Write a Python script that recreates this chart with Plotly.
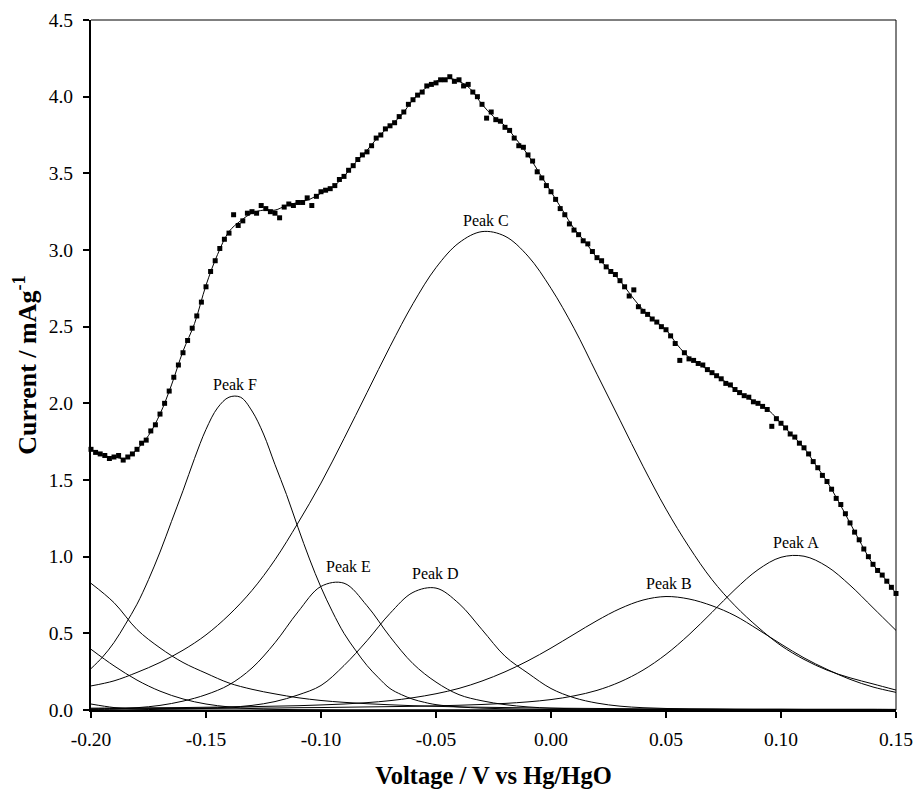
import plotly.graph_objects as go

# ---------------- data ----------------
# measured points (voltage V vs Hg/HgO, current mA/g)
data_voltage = [
    -0.200, -0.198, -0.196, -0.194, -0.192, -0.190, -0.188, -0.186, -0.184, -0.182,
    -0.180, -0.178, -0.176, -0.174, -0.172, -0.170, -0.168, -0.166, -0.164, -0.162,
    -0.160, -0.158, -0.156, -0.154, -0.152, -0.150, -0.148, -0.146, -0.144, -0.142,
    -0.140, -0.138, -0.136, -0.134, -0.132, -0.130, -0.128, -0.126, -0.124, -0.122,
    -0.120, -0.118, -0.116, -0.114, -0.112, -0.110, -0.108, -0.106, -0.104, -0.102,
    -0.100, -0.098, -0.096, -0.094, -0.092, -0.090, -0.088, -0.086, -0.084, -0.082,
    -0.080, -0.078, -0.076, -0.074, -0.072, -0.070, -0.068, -0.066, -0.064, -0.062,
    -0.060, -0.058, -0.056, -0.054, -0.052, -0.050, -0.048, -0.046, -0.044, -0.042,
    -0.040, -0.038, -0.036, -0.034, -0.032, -0.030, -0.028, -0.026, -0.024, -0.022,
    -0.020, -0.018, -0.016, -0.014, -0.012, -0.010, -0.008, -0.006, -0.004, -0.002,
    0.000, 0.002, 0.004, 0.006, 0.008, 0.010, 0.012, 0.014, 0.016, 0.018,
    0.020, 0.022, 0.024, 0.026, 0.028, 0.030, 0.032, 0.034, 0.036, 0.038,
    0.040, 0.042, 0.044, 0.046, 0.048, 0.050, 0.052, 0.054, 0.056, 0.058,
    0.060, 0.062, 0.064, 0.066, 0.068, 0.070, 0.072, 0.074, 0.076, 0.078,
    0.080, 0.082, 0.084, 0.086, 0.088, 0.090, 0.092, 0.094, 0.096, 0.098,
    0.100, 0.102, 0.104, 0.106, 0.108, 0.110, 0.112, 0.114, 0.116, 0.118,
    0.120, 0.122, 0.124, 0.126, 0.128, 0.130, 0.132, 0.134, 0.136, 0.138,
    0.140, 0.142, 0.144, 0.146, 0.148, 0.150,
]
data_current = [
    1.70, 1.68, 1.67, 1.66, 1.64, 1.65, 1.66, 1.63, 1.65, 1.67,
    1.70, 1.74, 1.76, 1.82, 1.86, 1.93, 2.00, 2.08, 2.17, 2.25,
    2.33, 2.41, 2.49, 2.57, 2.66, 2.76, 2.86, 2.93, 3.01, 3.07,
    3.11, 3.23, 3.16, 3.19, 3.24, 3.25, 3.24, 3.29, 3.27, 3.25,
    3.24, 3.21, 3.28, 3.30, 3.29, 3.31, 3.31, 3.34, 3.29, 3.35,
    3.38, 3.39, 3.40, 3.42, 3.46, 3.48, 3.52, 3.55, 3.59, 3.62,
    3.64, 3.68, 3.73, 3.75, 3.79, 3.81, 3.83, 3.87, 3.90, 3.95,
    3.98, 4.01, 4.03, 4.07, 4.08, 4.09, 4.11, 4.11, 4.13, 4.10,
    4.11, 4.07, 4.08, 4.03, 4.00, 3.95, 3.86, 3.90, 3.85, 3.84,
    3.80, 3.78, 3.73, 3.68, 3.67, 3.62, 3.58, 3.51, 3.47, 3.42,
    3.38, 3.33, 3.27, 3.23, 3.17, 3.13, 3.10, 3.06, 3.04, 2.99,
    2.95, 2.93, 2.89, 2.86, 2.84, 2.80, 2.76, 2.70, 2.74, 2.63,
    2.60, 2.58, 2.55, 2.53, 2.50, 2.48, 2.44, 2.39, 2.28, 2.33,
    2.29, 2.28, 2.26, 2.25, 2.22, 2.20, 2.18, 2.16, 2.13, 2.12,
    2.09, 2.07, 2.05, 2.04, 2.01, 2.00, 1.98, 1.96, 1.85, 1.90,
    1.87, 1.84, 1.80, 1.78, 1.74, 1.71, 1.67, 1.62, 1.58, 1.53,
    1.49, 1.44, 1.38, 1.34, 1.28, 1.22, 1.16, 1.11, 1.05, 1.00,
    0.95, 0.91, 0.88, 0.84, 0.80, 0.76,
]

# overall fitted curve
fit_voltage = [
    -0.200, -0.195, -0.190, -0.185, -0.180, -0.175, -0.170, -0.165, -0.160, -0.155,
    -0.150, -0.145, -0.140, -0.135, -0.130, -0.125, -0.120, -0.115, -0.110, -0.105,
    -0.100, -0.095, -0.090, -0.085, -0.080, -0.075, -0.070, -0.065, -0.060, -0.055,
    -0.050, -0.045, -0.040, -0.035, -0.030, -0.025, -0.020, -0.015, -0.010, -0.005,
    0.000, 0.005, 0.010, 0.015, 0.020, 0.025, 0.030, 0.035, 0.040, 0.045,
    0.050, 0.055, 0.060, 0.065, 0.070, 0.075, 0.080, 0.085, 0.090, 0.095,
    0.100, 0.105, 0.110, 0.115, 0.120, 0.125, 0.130, 0.135, 0.140, 0.145,
    0.150,
]
fit_current = [
    1.70, 1.66, 1.65, 1.64, 1.70, 1.79, 1.93, 2.12, 2.34, 2.52,
    2.77, 2.97, 3.12, 3.19, 3.24, 3.26, 3.26, 3.29, 3.31, 3.33,
    3.37, 3.41, 3.48, 3.57, 3.65, 3.74, 3.81, 3.88, 3.98, 4.05,
    4.10, 4.12, 4.10, 4.05, 3.95, 3.87, 3.81, 3.72, 3.62, 3.50,
    3.38, 3.26, 3.14, 3.05, 2.95, 2.88, 2.80, 2.70, 2.61, 2.54,
    2.48, 2.38, 2.30, 2.25, 2.20, 2.15, 2.09, 2.04, 2.00, 1.95,
    1.87, 1.79, 1.71, 1.60, 1.49, 1.36, 1.22, 1.08, 0.95, 0.86,
    0.76,
]

# deconvoluted peak components, sampled every 0.01 V
comp_voltage = [
    -0.20, -0.19, -0.18, -0.17, -0.16, -0.15, -0.14, -0.13, -0.12, -0.11,
    -0.10, -0.09, -0.08, -0.07, -0.06, -0.05, -0.04, -0.03, -0.02, -0.01,
    0.00, 0.01, 0.02, 0.03, 0.04, 0.05, 0.06, 0.07, 0.08, 0.09,
    0.10, 0.11, 0.12, 0.13, 0.14, 0.15,
]
peak_A = [0.007, 0.008, 0.008, 0.009, 0.009, 0.010, 0.011, 0.012, 0.013, 0.015,
          0.016, 0.018, 0.020, 0.022, 0.024, 0.027, 0.031, 0.036, 0.043, 0.053,
          0.068, 0.092, 0.128, 0.183, 0.260, 0.363, 0.491, 0.637, 0.786, 0.915,
          0.996, 1.003, 0.936, 0.814, 0.667, 0.519]
peak_B = [0.012, 0.013, 0.014, 0.015, 0.016, 0.018, 0.020, 0.022, 0.025, 0.028,
          0.033, 0.039, 0.048, 0.061, 0.080, 0.106, 0.141, 0.189, 0.249, 0.321,
          0.404, 0.494, 0.583, 0.661, 0.717, 0.740, 0.724, 0.680, 0.615, 0.525,
          0.430, 0.340, 0.265, 0.200, 0.150, 0.115]
peak_C = [0.157, 0.190, 0.245, 0.310, 0.390, 0.490, 0.620, 0.780, 0.980, 1.220,
          1.480, 1.770, 2.070, 2.370, 2.650, 2.885, 3.047, 3.120, 3.090, 2.960,
          2.750, 2.490, 2.190, 1.890, 1.590, 1.310, 1.064, 0.850, 0.680, 0.540,
          0.420, 0.330, 0.260, 0.210, 0.170, 0.130]
peak_D = [0.004, 0.005, 0.006, 0.008, 0.010, 0.013, 0.018, 0.030, 0.055, 0.098,
          0.160, 0.290, 0.452, 0.630, 0.767, 0.795, 0.694, 0.524, 0.351, 0.240,
          0.140, 0.080, 0.045, 0.025, 0.015, 0.010, 0.007, 0.005, 0.004, 0.003,
          0.003, 0.002, 0.002, 0.002, 0.001, 0.001]
peak_E = [0.005, 0.008, 0.015, 0.030, 0.058, 0.100, 0.164, 0.274, 0.439, 0.640,
          0.806, 0.827, 0.680, 0.478, 0.302, 0.182, 0.100, 0.060, 0.035, 0.020,
          0.012, 0.008, 0.005, 0.004, 0.003, 0.003, 0.002, 0.002, 0.002, 0.001,
          0.001, 0.001, 0.001, 0.001, 0.001, 0.001]
tail_1 = [0.826, 0.700, 0.525, 0.405, 0.310, 0.240, 0.176, 0.135, 0.105, 0.080,
          0.062, 0.050, 0.041, 0.034, 0.028, 0.024, 0.020, 0.018, 0.016, 0.014,
          0.012, 0.011, 0.010, 0.009, 0.008, 0.008, 0.007, 0.007, 0.006, 0.006,
          0.006, 0.005, 0.005, 0.005, 0.005, 0.004]
tail_2 = [0.396, 0.288, 0.195, 0.123, 0.072, 0.039, 0.020, 0.009, 0.004, 0.002,
          0.001, 0.000, 0.000, 0.000, 0.000, 0.000, 0.000, 0.000, 0.000, 0.000,
          0.000, 0.000, 0.000, 0.000, 0.000, 0.000, 0.000, 0.000, 0.000, 0.000,
          0.000, 0.000, 0.000, 0.000, 0.000, 0.000]
tail_3 = [0.039, 0.016, 0.006, 0.002, 0.001, 0.000, 0.000, 0.000, 0.000, 0.000,
          0.000, 0.000, 0.000, 0.000, 0.000, 0.000, 0.000, 0.000, 0.000, 0.000,
          0.000, 0.000, 0.000, 0.000, 0.000, 0.000, 0.000, 0.000, 0.000, 0.000,
          0.000, 0.000, 0.000, 0.000, 0.000, 0.000]

# the narrow Peak F is read on a finer 0.005 V step
peak_F_voltage = [
    -0.200, -0.195, -0.190, -0.185, -0.180, -0.175, -0.170, -0.165, -0.160, -0.155,
    -0.150, -0.145, -0.140, -0.135, -0.130, -0.125, -0.120, -0.115, -0.110, -0.105,
    -0.100, -0.095, -0.090, -0.085, -0.080, -0.075, -0.070, -0.065, -0.060, -0.055,
    -0.050, -0.040, -0.030, -0.020, -0.010, 0.000, 0.010, 0.020, 0.030, 0.050,
    0.100, 0.150,
]
peak_F = [
    0.270, 0.345, 0.440, 0.560, 0.690, 0.850, 1.030, 1.230, 1.430, 1.640,
    1.830, 1.970, 2.040, 2.040, 1.950, 1.800, 1.600, 1.405, 1.190, 0.985,
    0.800, 0.640, 0.500, 0.390, 0.290, 0.210, 0.140, 0.100, 0.070, 0.050,
    0.035, 0.020, 0.012, 0.008, 0.005, 0.003, 0.002, 0.001, 0.000, 0.000,
    0.000, 0.000,
]

peak_labels = ["Peak A", "Peak B", "Peak C", "Peak D", "Peak E", "Peak F"]
x_tick_values = [-0.20, -0.15, -0.10, -0.05, 0.00, 0.05, 0.10, 0.15]
x_tick_labels = ["-0.20", "-0.15", "-0.10", "-0.05", "0.00", "0.05", "0.10", "0.15"]
y_tick_values = [0.0, 0.5, 1.0, 1.5, 2.0, 2.5, 3.0, 3.5, 4.0, 4.5]
y_tick_labels = ["0.0", "0.5", "1.0", "1.5", "2.0", "2.5", "3.0", "3.5", "4.0", "4.5"]

# label anchor positions (layout, in data units)
label_pos = {
    "Peak A": (0.1065, 1.095),
    "Peak B": (0.0511, 0.827),
    "Peak C": (-0.0283, 3.19),
    "Peak D": (-0.0504, 0.887),
    "Peak E": (-0.0880, 0.935),
    "Peak F": (-0.1372, 2.125),
}

SERIF = "Liberation Serif, Times New Roman, serif"
LINE = dict(color="black", width=1, shape="spline", smoothing=1.0)

fig = go.Figure()

for comp in [peak_A, peak_B, peak_C, peak_D, peak_E, tail_1, tail_2, tail_3]:
    fig.add_trace(go.Scatter(x=comp_voltage, y=comp, mode="lines", line=LINE,
                             showlegend=False, hoverinfo="skip"))
fig.add_trace(go.Scatter(x=peak_F_voltage, y=peak_F, mode="lines", line=LINE,
                         showlegend=False, hoverinfo="skip"))

fig.add_trace(go.Scatter(x=fit_voltage, y=fit_current, mode="lines", line=LINE,
                         showlegend=False, hoverinfo="skip"))

fig.add_trace(go.Scatter(
    x=data_voltage, y=data_current, mode="markers",
    marker=dict(symbol="square", size=5, color="black", line=dict(width=0)),
    cliponaxis=False, showlegend=False,
))

for lab in peak_labels:
    lx, ly = label_pos[lab]
    fig.add_annotation(x=lx, y=ly, text=lab, showarrow=False,
                       xanchor="center", yanchor="middle",
                       font=dict(family=SERIF, size=16, color="black"))

# thin top and right frame
fig.add_shape(type="line", xref="paper", yref="paper", x0=0, x1=1, y0=1, y1=1,
              line=dict(color="black", width=1))
fig.add_shape(type="line", xref="paper", yref="paper", x0=1, x1=1, y0=0, y1=1,
              line=dict(color="black", width=1))

axis_common = dict(
    showgrid=False, zeroline=False, showline=True, linecolor="black", linewidth=2,
    ticks="outside", ticklen=6, tickwidth=2, tickcolor="black", automargin=False,
    ticklabeloverflow="allow",
    tickfont=dict(family=SERIF, size=19.5, color="black"),
)

fig.update_layout(
    width=913, height=789,
    margin=dict(l=91, r=17, t=20, b=79),
    paper_bgcolor="white", plot_bgcolor="white",
    xaxis=dict(range=[-0.20, 0.15], tickvals=x_tick_values, ticktext=x_tick_labels,
               ticklabelstandoff=5,
               title=dict(text="<b>Voltage / V vs Hg/HgO</b>",
                          font=dict(family=SERIF, size=24.5, color="black"), standoff=21),
               **axis_common),
    yaxis=dict(range=[0, 4.5], tickvals=y_tick_values, ticktext=y_tick_labels,
               ticklabelstandoff=6,
               title=dict(text="<b>Current / mAg<sup>-1</sup></b>",
                          font=dict(family=SERIF, size=26, color="black"), standoff=5),
               **axis_common),
)

fig.write_html("out.html")
